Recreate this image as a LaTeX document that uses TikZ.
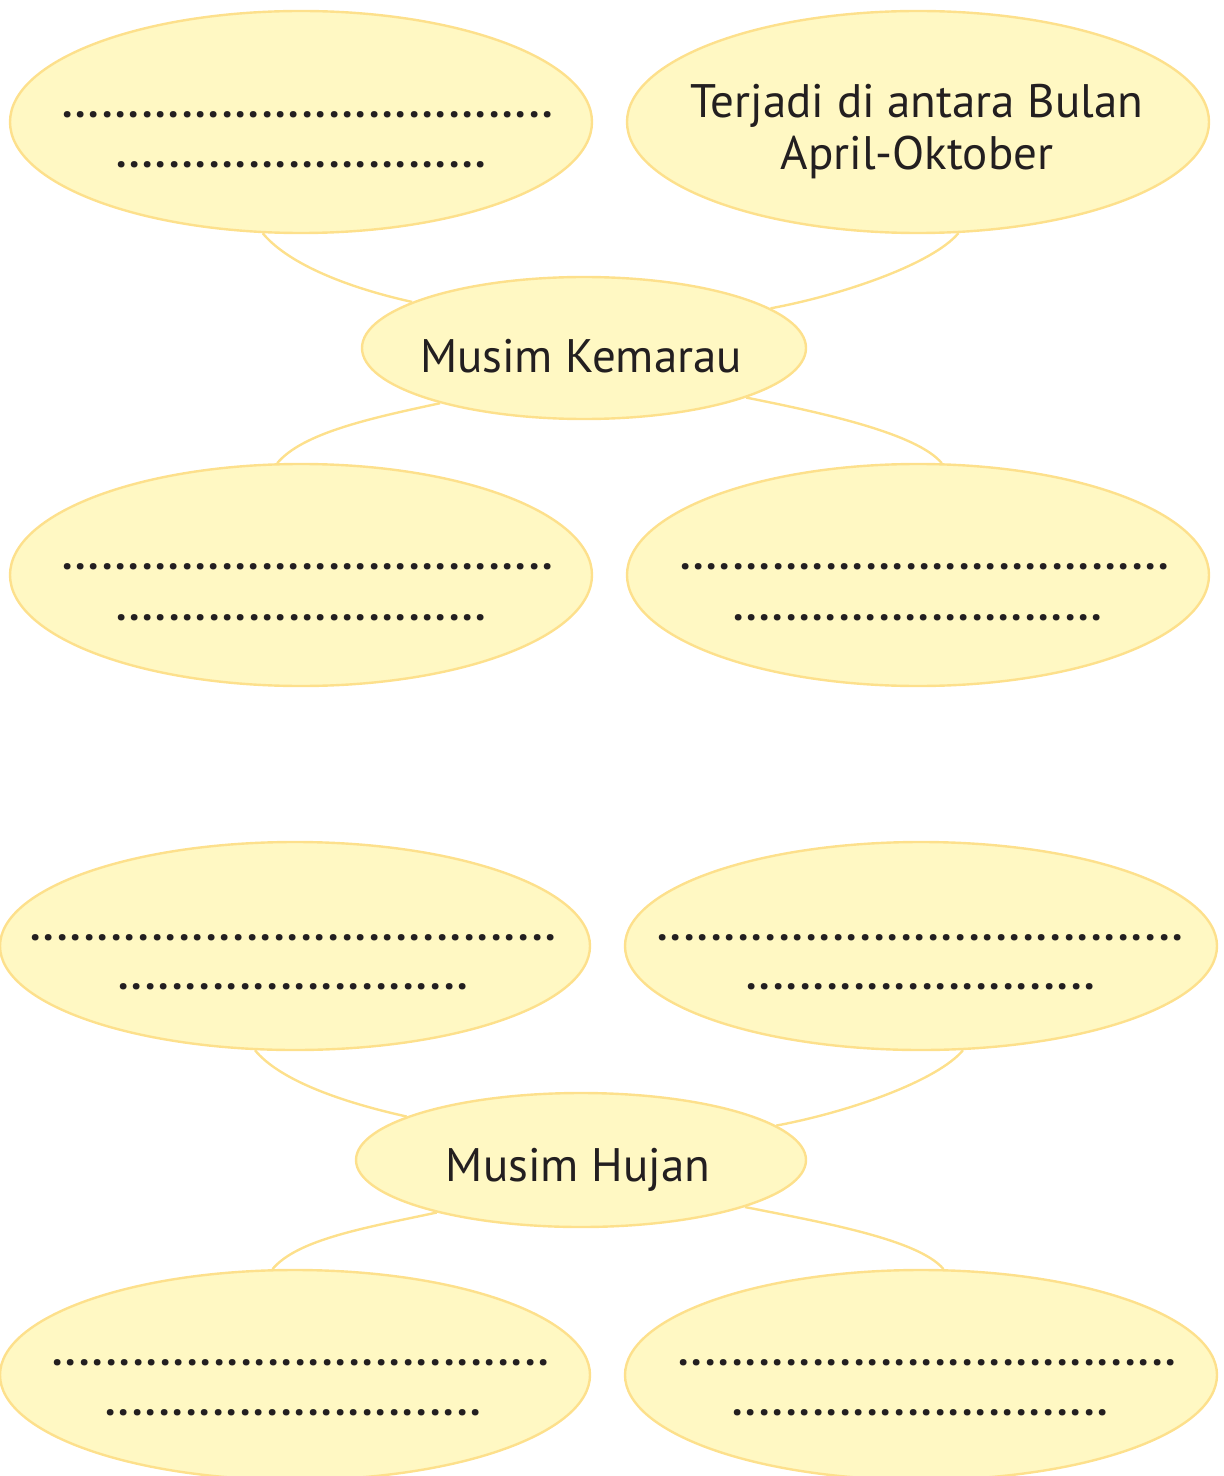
\documentclass[tikz,border=0pt]{standalone}
\usepackage{fontspec}
\setmainfont{PT Sans}
\usetikzlibrary{shapes.geometric}
\definecolor{bubblefill}{HTML}{FFF8C3}
\definecolor{bubbleline}{HTML}{FDE08C}
\definecolor{inktext}{HTML}{231F20}
\newcommand\dotrow[2]{\hbox to #1{\count255=0 \loop .\advance\count255 by 1 \ifnum\count255<#2 \hfil\repeat}}
\tikzset{
  bubble/.style={ellipse, draw=bubbleline, fill=bubblefill, line width=1.2pt, inner sep=0pt},
  link/.style={draw=bubbleline, line width=1.2pt},
  dots/.style={inner sep=0pt, text=inktext, font=\fontsize{21}{24}\selectfont\bfseries},
  label/.style={inner sep=0pt, text=inktext, font=\fontsize{23.5}{26}\selectfont, anchor=base},
}
\begin{document}
\begin{tikzpicture}[x=0.5pt, y=-0.5pt]
\useasboundingbox (0,0) rectangle (1223,1476);
% ---------- Musim Kemarau ----------
\node[bubble, minimum width=291pt, minimum height=111pt] (e1) at (301,122) {};
\node[bubble, minimum width=291pt, minimum height=111pt] (e2) at (918,122) {};
\node[bubble, minimum width=222pt, minimum height=71pt] (c1) at (584,348) {};
\node[bubble, minimum width=291pt, minimum height=111pt] (e3) at (301,575) {};
\node[bubble, minimum width=291pt, minimum height=111pt] (e4) at (918,575) {};
\draw[link] (e1.-109) .. controls +(23,28) and +(-72,-16) .. (c1.165);
\draw[link] (e2.-70) .. controls +(-25,30) and +(75,-14) .. (c1.12);
\draw[link] (c1.201) .. controls +(-70,15) and +(25,-30) .. (e3.102);
\draw[link] (c1.-17) .. controls +(75,15) and +(-25,-30) .. (e4.78);
\node[label] (t1) at (581,372) {Musim Kemarau};
\node[label] (t2a) at (917,118) {Terjadi di antara Bulan};
\node[label] (t2b) at (917,170) {April-Oktober};
\node[dots] (d1a) at (307.5,115) {\dotrow{245.5pt}{37}};
\node[dots] (d1b) at (301,165) {\dotrow{185pt}{28}};
\node[dots] (d3a) at (307.5,567) {\dotrow{245.5pt}{37}};
\node[dots] (d3b) at (301,618) {\dotrow{185pt}{28}};
\node[dots] (d4a) at (924.5,567) {\dotrow{244.5pt}{37}};
\node[dots] (d4b) at (917.5,618) {\dotrow{184.5pt}{28}};
% ---------- Musim Hujan ----------
\node[bubble, minimum width=295pt, minimum height=104pt] (e5) at (295,946) {};
\node[bubble, minimum width=296pt, minimum height=104pt] (e6) at (921,946) {};
\node[bubble, minimum width=225pt, minimum height=67pt] (c2) at (581,1160) {};
\node[bubble, minimum width=295pt, minimum height=105pt] (e7) at (295,1375) {};
\node[bubble, minimum width=296pt, minimum height=105pt] (e8) at (921,1375) {};
\draw[link] (e5.-111) .. controls +(23,28) and +(-72,-16) .. (c2.166);
\draw[link] (e6.-68) .. controls +(-25,30) and +(75,-14) .. (c2.10);
\draw[link] (c2.200) .. controls +(-70,15) and +(25,-30) .. (e7.102);
\draw[link] (c2.-16) .. controls +(75,15) and +(-25,-30) .. (e8.78);
\node[label] (t5) at (578,1181) {Musim Hujan};
\node[dots] (d5a) at (293,938) {\dotrow{263pt}{39}};
\node[dots] (d5b) at (293,987) {\dotrow{175pt}{26}};
\node[dots] (d6a) at (920,938) {\dotrow{263pt}{39}};
\node[dots] (d6b) at (920.5,987) {\dotrow{174.5pt}{26}};
\node[dots] (d7a) at (300.5,1363) {\dotrow{248.5pt}{37}};
\node[dots] (d7b) at (293,1413) {\dotrow{188pt}{28}};
\node[dots] (d8a) at (927,1363) {\dotrow{249pt}{37}};
\node[dots] (d8b) at (920,1413) {\dotrow{188pt}{28}};
\end{tikzpicture}
\end{document}
